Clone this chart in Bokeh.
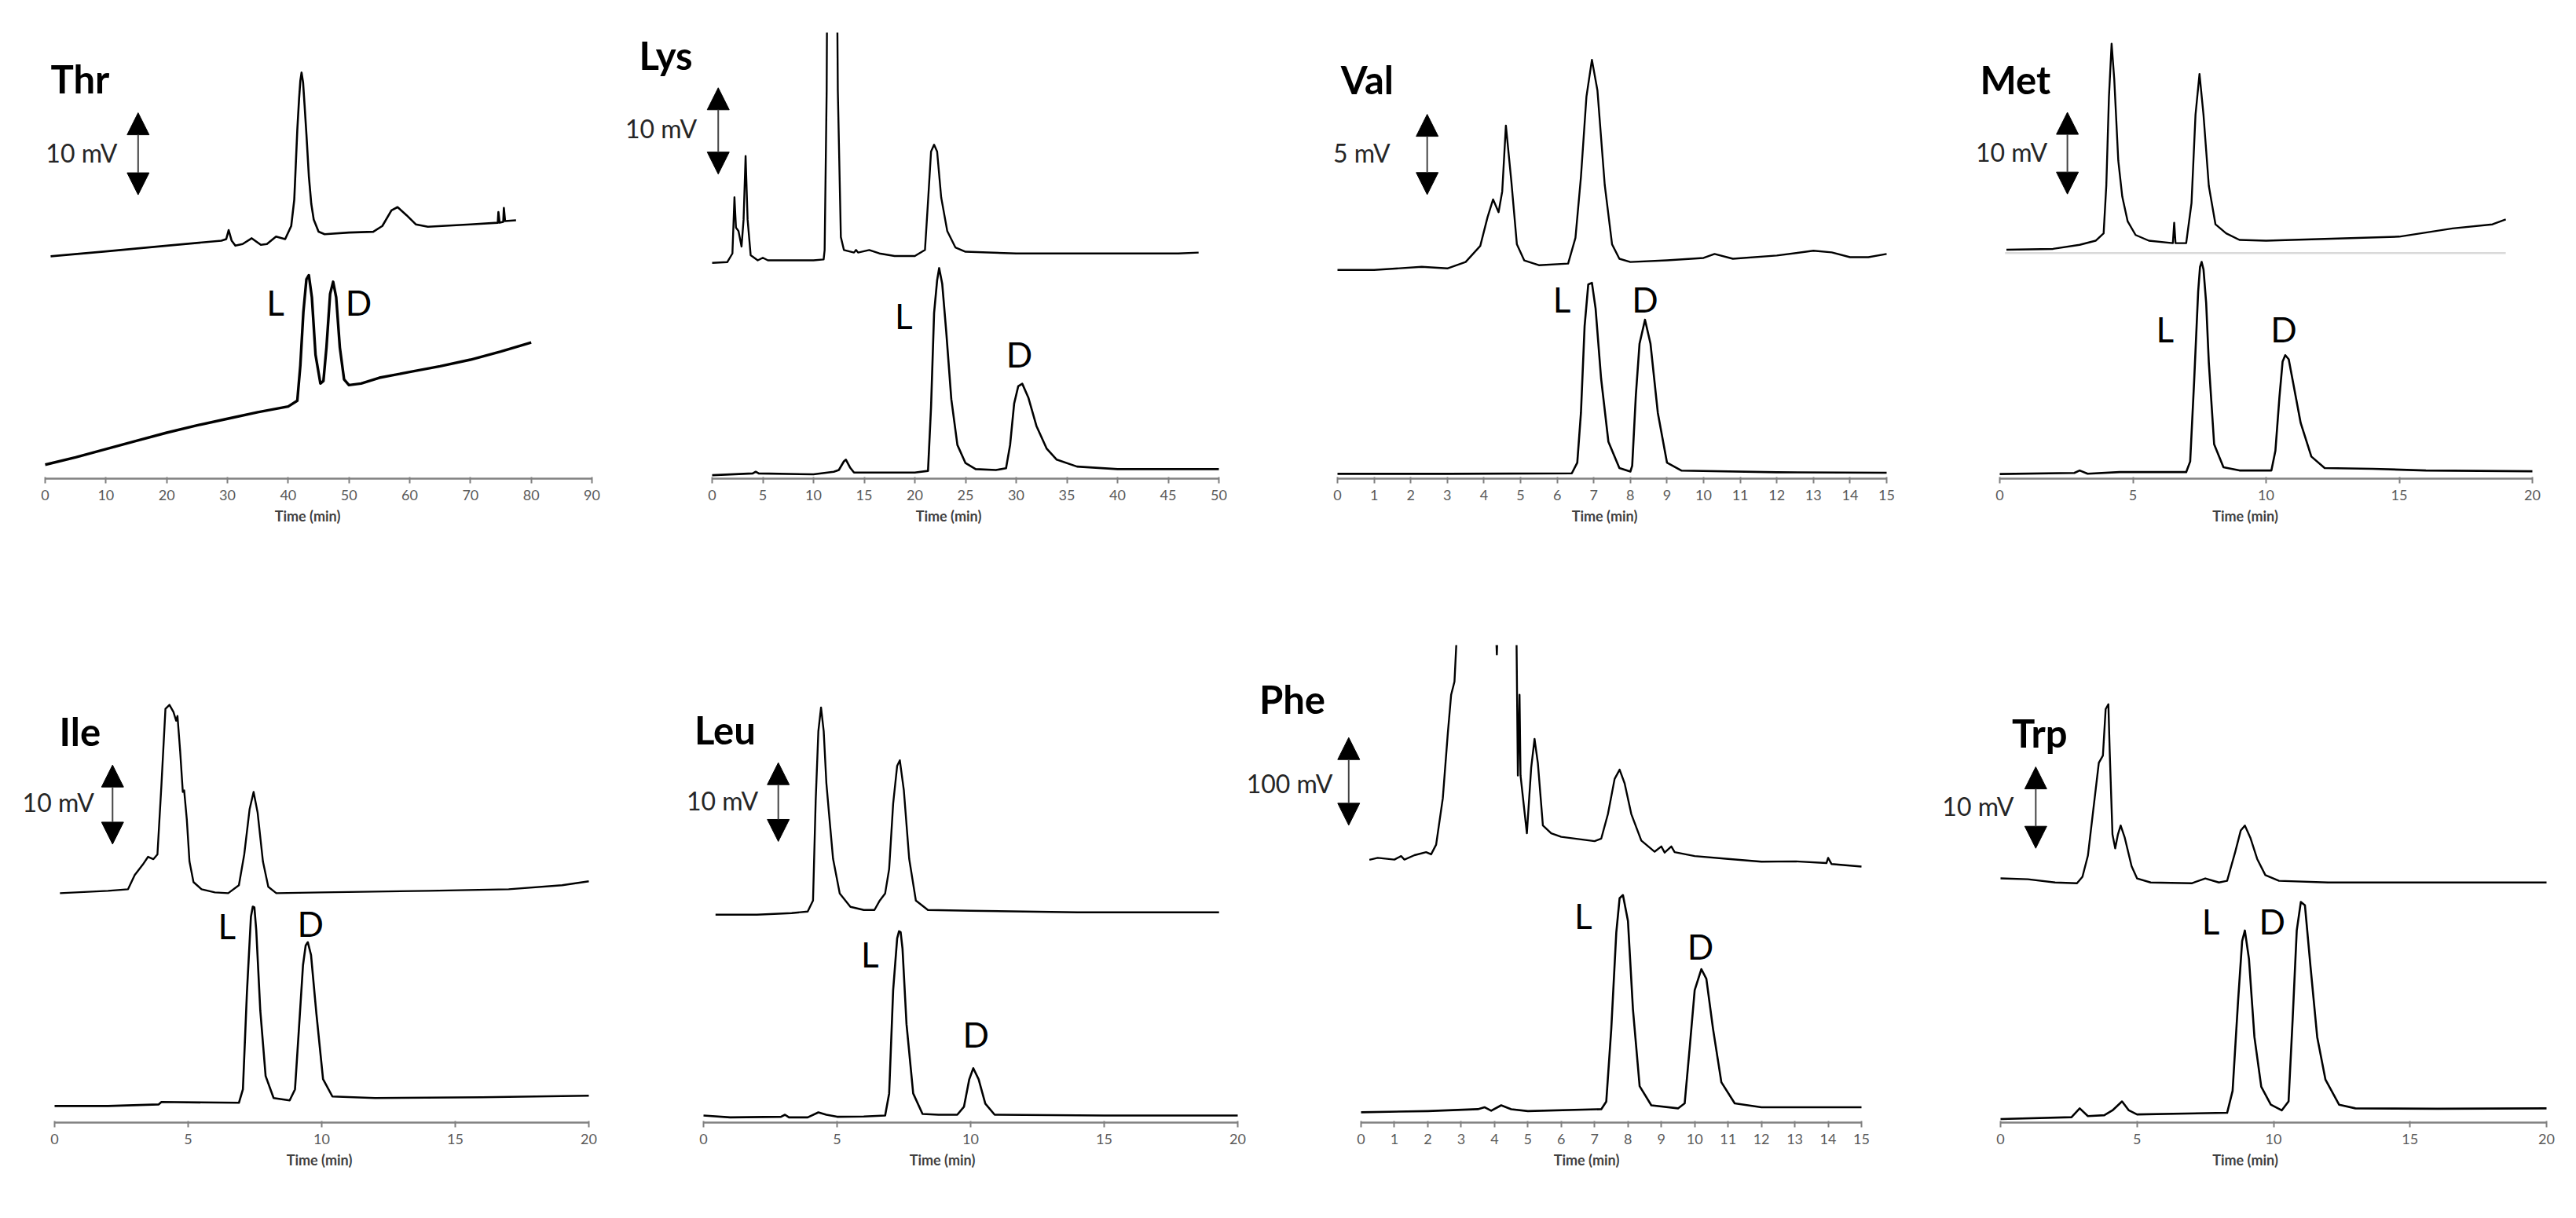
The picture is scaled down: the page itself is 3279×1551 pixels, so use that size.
from bokeh.plotting import figure
from bokeh.layouts import row, column
from bokeh.models import Range1d, FixedTicker, Label, Arrow, NormalHead
from bokeh.embed import file_html
from bokeh.resources import INLINE

FONT = "Lato"

# ------------------------------------------------------------------ data
amino_acids = ["Thr", "Lys", "Val", "Met", "Ile", "Leu", "Phe", "Trp"]
scale_bar_mv = [10, 10, 5, 10, 10, 10, 100, 10]
scale_bar_text = ["10 mV", "10 mV", "5 mV", "10 mV", "10 mV", "10 mV", "100 mV", "10 mV"]

thr_ticks = [0, 10, 20, 30, 40, 50, 60, 70, 80, 90]
lys_ticks = [0, 5, 10, 15, 20, 25, 30, 35, 40, 45, 50]
val_ticks = [0, 1, 2, 3, 4, 5, 6, 7, 8, 9, 10, 11, 12, 13, 14, 15]
met_ticks = [0, 5, 10, 15, 20]
ile_ticks = [0, 5, 10, 15, 20]
leu_ticks = [0, 5, 10, 15, 20]
phe_ticks = [0, 1, 2, 3, 4, 5, 6, 7, 8, 9, 10, 11, 12, 13, 14, 15]
trp_ticks = [0, 5, 10, 15, 20]

# time (min) / signal (mV) ; "sample" = upper trace, "std" = racemic standard (lower)
thr_sample_t = [0.9, 10, 20, 29, 29.8, 30.2, 30.7, 31.3, 32.5, 34, 35.5, 36.5, 38, 39.5, 40.5, 41.0, 41.5,
                41.8, 42.0, 42.2, 42.45, 42.7, 43.0, 43.4, 43.8, 44.2, 45, 46, 50, 54, 55.5, 57, 58, 59.5,
                61, 63, 70, 74.5, 74.6, 74.8, 75.4, 75.5, 75.7, 77.5]
thr_sample_mv = [27.1, 27.7, 28.4, 29.0, 29.2, 30.3, 29.0, 28.4, 28.6, 29.3, 28.5, 28.6, 29.5, 29.2, 30.8, 34.0,
                 42.5, 46.4, 48.5, 49.5, 48.3, 45.5, 42.0, 36.9, 33.5, 31.6, 30.1, 29.8, 30.0, 30.1, 30.8, 32.7,
                 33.1, 32.1, 31.0, 30.7, 31.0, 31.2, 32.5, 31.2, 31.3, 33.0, 31.4, 31.5]
thr_std_t = [0, 5, 10, 15, 20, 25, 30, 35, 40, 41.5, 42, 42.5, 43, 43.4, 43.9, 44.5, 45.3, 45.8, 46.3, 46.9,
             47.4, 47.9, 48.5, 49.2, 50, 52, 55, 60, 65, 70, 75, 80]
thr_std_mv = [1.7, 2.6, 3.6, 4.6, 5.6, 6.5, 7.3, 8.1, 8.8, 9.5, 13.8, 20.3, 24.3, 24.8, 22.1, 15.1, 11.6, 11.9,
              16.0, 22.5, 24.0, 22.1, 16.0, 12.1, 11.4, 11.6, 12.3, 13.0, 13.7, 14.5, 15.5, 16.6]

lys_sample_t = [0, 1.5, 2.0, 2.2, 2.35, 2.6, 2.9, 3.1, 3.3, 3.5, 3.8, 4.5, 5.0, 5.5, 10, 11.0, 11.1, 11.3,
                11.4, 11.9, 12.25, 12.4, 12.7, 13.0, 14.0, 14.2, 14.4, 15.5, 16.5, 18, 20, 21.0, 21.3, 21.6,
                21.9, 22.2, 22.6, 23.2, 24, 25, 30, 40, 46, 48]
lys_sample_mv = [25.0, 25.1, 26.1, 32.6, 29.1, 28.7, 26.9, 30.0, 37.4, 30.0, 25.9, 25.3, 25.6, 25.3, 25.3, 25.4,
                 26.5, 45.0, 70.0, 150.0, 70.0, 45.0, 28.0, 26.5, 26.2, 26.5, 26.2, 26.5, 26.1, 25.8, 25.8,
                 26.5, 32.1, 37.9, 38.7, 37.9, 32.6, 28.7, 26.8, 26.3, 26.1, 26.1, 26.1, 26.2]
lys_std_t = [0, 4, 4.3, 4.6, 10, 12, 12.5, 13.0, 13.2, 13.6, 14, 20, 21.3, 21.6, 21.9, 22.2, 22.4, 22.7, 23.1,
             23.6, 24.2, 25, 26, 28, 29, 29.4, 29.8, 30.2, 30.6, 31.2, 32, 33, 34, 36, 40, 50]
lys_std_mv = [0.4, 0.6, 0.8, 0.6, 0.5, 0.8, 1.0, 2.0, 2.2, 1.3, 0.7, 0.7, 0.9, 8.3, 19.2, 23.0, 24.4, 22.6, 17.0,
              9.2, 3.9, 1.8, 1.1, 1.0, 1.2, 3.9, 8.7, 10.7, 11.0, 9.4, 6.1, 3.5, 2.2, 1.4, 1.1, 1.1]

val_sample_t = [0, 1, 2.3, 3, 3.5, 3.9, 4.1, 4.25, 4.4, 4.5, 4.6, 4.75, 4.9, 5.1, 5.5, 6.3, 6.5, 6.65, 6.8,
                6.95, 7.1, 7.3, 7.5, 7.7, 8, 9, 10, 10.3, 10.8, 12, 13, 13.5, 14, 14.5, 15]
val_sample_mv = [13.0, 13.0, 13.2, 13.1, 13.5, 14.5, 16.3, 17.4, 16.6, 17.9, 22.0, 18.5, 14.6, 13.6, 13.3, 13.4,
                 15.0, 18.8, 23.8, 26.1, 24.2, 18.3, 14.6, 13.7, 13.5, 13.6, 13.75, 14.0, 13.7, 13.9, 14.2,
                 14.1, 13.8, 13.8, 14.0]
val_std_t = [0, 3, 6.4, 6.55, 6.65, 6.75, 6.85, 6.95, 7.05, 7.2, 7.4, 7.7, 8.0, 8.05, 8.15, 8.25, 8.4, 8.55,
             8.75, 9.0, 9.4, 12, 15]
val_std_mv = [0.3, 0.3, 0.33, 1.0, 4.1, 9.5, 12.1, 12.2, 10.6, 6.25, 2.3, 0.66, 0.44, 0.8, 5.2, 8.4, 9.9, 8.4,
              4.1, 1.0, 0.5, 0.4, 0.37]

met_sample_t = [0.25, 2, 3, 3.6, 3.9, 4.0, 4.1, 4.2, 4.3, 4.45, 4.6, 4.8, 5.1, 5.6, 6.5, 6.55, 6.6, 7.0, 7.2,
                7.35, 7.5, 7.65, 7.85, 8.1, 8.5, 9, 10, 15, 17, 18.5, 19.0]
met_sample_mv = [28.0, 28.1, 28.6, 29.1, 30.0, 35.8, 46.7, 53.2, 48.8, 38.9, 34.5, 31.5, 29.8, 29.1, 28.8, 31.3,
                 28.8, 28.8, 33.7, 44.5, 49.5, 44.5, 35.8, 31.1, 30.0, 29.2, 29.1, 29.6, 30.6, 31.1, 31.7]
met_rule_t = [0.2, 19.0]
met_rule_mv = [27.6, 27.6]
met_std_t = [0, 2.8, 3.0, 3.3, 4.5, 7.0, 7.15, 7.3, 7.45, 7.52, 7.58, 7.65, 7.75, 7.85, 8.05, 8.4, 9, 10.2,
             10.35, 10.5, 10.62, 10.72, 10.85, 11.0, 11.3, 11.7, 12.2, 14, 16, 20]
met_std_mv = [0.56, 0.7, 1.0, 0.6, 0.8, 0.8, 2.1, 12.0, 22.9, 25.9, 26.5, 25.6, 21.5, 14.2, 4.2, 1.4, 1.0, 1.0,
              3.4, 9.9, 14.3, 15.1, 14.6, 12.0, 6.8, 2.7, 1.3, 1.2, 1.0, 0.9]

ile_sample_t = [0.2, 2, 2.75, 3.0, 3.3, 3.5, 3.7, 3.85, 4.0, 4.15, 4.3, 4.45, 4.55, 4.6, 4.7, 4.8, 4.85, 4.95,
                5.05, 5.2, 5.5, 6, 6.5, 6.9, 7.1, 7.3, 7.45, 7.6, 7.8, 8.0, 8.3, 10, 14, 17, 19, 20]
ile_sample_mv = [29.0, 29.3, 29.5, 31.3, 32.6, 33.6, 33.3, 33.9, 42.7, 52.3, 52.8, 51.9, 50.8, 51.4, 47.0, 41.8,
                 42.0, 38.3, 33.0, 30.4, 29.5, 29.1, 29.0, 30.0, 33.9, 39.6, 41.8, 39.2, 33.0, 29.8, 29.0,
                 29.1, 29.3, 29.5, 30.0, 30.5]
ile_std_t = [0, 2, 3.9, 4.0, 6.9, 7.05, 7.2, 7.35, 7.42, 7.48, 7.55, 7.7, 7.9, 8.2, 8.8, 9.0, 9.15, 9.3, 9.4,
             9.48, 9.6, 9.8, 10.05, 10.4, 12, 16, 20]
ile_std_mv = [2.1, 2.1, 2.3, 2.6, 2.5, 4.2, 16.4, 26.0, 27.3, 27.2, 24.3, 14.2, 5.9, 3.1, 2.8, 4.2, 12.0, 19.9,
              22.4, 22.8, 21.2, 13.8, 5.5, 3.3, 3.1, 3.2, 3.4]

leu_sample_t = [0.45, 2, 3.3, 3.9, 4.1, 4.2, 4.3, 4.4, 4.5, 4.6, 4.7, 4.85, 5.1, 5.5, 6, 6.4, 6.6, 6.8, 6.95,
                7.1, 7.25, 7.35, 7.5, 7.7, 7.95, 8.4, 10, 14, 19.3]
leu_sample_mv = [26.4, 26.4, 26.6, 26.8, 28.2, 40.9, 49.7, 52.7, 49.7, 43.1, 39.2, 33.5, 29.1, 27.4, 27.0, 27.0,
                 28.2, 29.1, 32.2, 40.5, 45.3, 46.0, 42.2, 33.5, 28.2, 27.0, 26.9, 26.7, 26.7]
leu_std_t = [0, 1, 2.9, 3.05, 3.2, 3.9, 4.3, 4.6, 5, 6, 6.8, 6.95, 7.1, 7.25, 7.32, 7.38, 7.45, 7.6, 7.85, 8.2,
             8.8, 9.5, 9.75, 9.95, 10.1, 10.3, 10.55, 10.9, 15, 20]
leu_std_mv = [0.9, 0.66, 0.74, 1.0, 0.66, 0.66, 1.3, 1.0, 0.74, 0.78, 0.9, 3.7, 16.8, 23.4, 24.3, 24.2, 22.1,
              12.5, 3.7, 1.1, 1.0, 1.0, 2.0, 5.5, 6.9, 5.5, 2.4, 1.0, 0.9, 0.9]

phe_sample_t = [0.25, 0.5, 1.0, 1.2, 1.3, 1.6, 1.95, 2.1, 2.25, 2.45, 2.6, 2.7, 2.8, 2.9, 3.3, 3.9, 4.07, 4.2,
                4.55, 4.66, 4.70, 4.75, 4.78, 4.97, 5.1, 5.2, 5.3, 5.45, 5.7, 6, 7, 7.2, 7.4, 7.6, 7.75, 7.9,
                8.1, 8.4, 8.8, 9.0, 9.1, 9.3, 9.4, 10, 11, 12, 13, 13.95, 14.0, 14.1, 15]
phe_sample_mv = [299.8, 302, 300, 304, 300, 305, 308.5, 306, 317, 369.8, 444, 488, 503, 580, 800, 700, 534, 700,
                 800, 550, 396, 488, 396, 330, 405, 437.6, 410, 339, 330, 326, 321, 324, 352, 392, 402.6, 387,
                 352, 321.7, 309, 315, 308, 315, 308.5, 304, 300.7, 297.6, 298, 296, 302, 295, 292]
phe_std_t = [0, 2, 3.5, 3.7, 3.9, 4.2, 4.5, 5, 7.2, 7.35, 7.5, 7.65, 7.75, 7.85, 8.0, 8.15, 8.35, 8.7, 9.5, 9.7,
             9.85, 10.0, 10.2, 10.35, 10.55, 10.8, 11.2, 12, 15]
phe_std_mv = [11.8, 13.1, 15.3, 17.5, 13.5, 19.7, 15.3, 13.1, 15.3, 24, 107, 216.6, 256, 259.5, 230, 129, 41.6,
              19.7, 16.2, 21.9, 85.3, 151, 175, 164, 107, 46, 21.9, 17.5, 17.5]

trp_sample_t = [0, 1, 2, 2.8, 3.0, 3.2, 3.4, 3.6, 3.75, 3.85, 3.95, 4.0, 4.1, 4.2, 4.3, 4.4, 4.55, 4.8, 5.0,
                5.5, 7, 7.5, 8, 8.3, 8.6, 8.8, 8.95, 9.15, 9.4, 9.7, 10.2, 12, 16, 20]
trp_sample_mv = [30.0, 29.9, 29.5, 29.4, 30.2, 32.8, 38.5, 44.2, 45.1, 50.8, 51.4, 45.5, 35.4, 33.7, 35.4, 36.5,
                 35.0, 31.5, 30.0, 29.5, 29.4, 30.0, 29.5, 29.7, 33.3, 35.9, 36.5, 35.0, 32.4, 30.4, 29.7, 29.5,
                 29.5, 29.5]
trp_std_t = [0, 2.6, 2.9, 3.2, 3.8, 4.1, 4.45, 4.7, 5.0, 8.3, 8.5, 8.7, 8.85, 8.95, 9.1, 9.3, 9.55, 9.9, 10.3,
             10.55, 10.7, 10.85, 11.0, 11.15, 11.35, 11.6, 11.9, 12.4, 13, 16, 20]
trp_std_mv = [0.44, 0.66, 1.75, 0.8, 0.9, 1.5, 2.6, 1.5, 1.0, 1.2, 3.9, 14.9, 22.3, 23.6, 20.1, 10.5, 4.4, 2.2,
              1.5, 2.6, 12.7, 23.6, 27.1, 26.7, 19.3, 10.5, 5.3, 2.2, 1.75, 1.7, 1.75]

# ------------------------------------------------------------------ layout (page pixels)
# box = (left, right, top, bottom) of each figure; axis = pixel span of the time axis;
# base = pixel row of the time axis; top = pixel row where the plot area starts; ppu = px per mV
geometry = {
    "Thr": dict(box=(8, 790, 8, 780), axis=(65, 761), base=617, top=8, ppu=11.2),
    "Lys": dict(box=(790, 1640, 8, 780), axis=(914, 1559), base=628, top=49, ppu=11.2),
    "Val": dict(box=(1640, 2460, 8, 780), axis=(1710, 2409), base=625, top=8, ppu=22.2),
    "Met": dict(box=(2460, 3271, 8, 780), axis=(2553, 3231), base=619, top=8, ppu=11.2),
    "Ile": dict(box=(8, 820, 780, 1543), axis=(77, 757), base=1456, top=780, ppu=11.2),
    "Leu": dict(box=(820, 1594, 780, 1543), axis=(903, 1583), base=1459, top=780, ppu=11.2),
    "Phe": dict(box=(1594, 2460, 780, 1543), axis=(1740, 2377), base=1439, top=829, ppu=1.12),
    "Trp": dict(box=(2460, 3271, 780, 1543), axis=(2554, 3249), base=1437, top=780, ppu=11.2),
}

# annotation anchors in data units (min, mV)
anchors = {
    "Thr": dict(title=(0.9, 48.8), bar_text=(11.9, 39.7), bar=(15.3, 34.6), L=(37.9, 21.5), D=(51.6, 21.5)),
    "Lys": dict(title=(-7.2, 49.1), bar_text=(-1.5, 40.6), bar=(0.6, 35.3), L=(18.9, 18.9), D=(30.3, 14.4)),
    "Val": dict(title=(0.09, 24.9), bar_text=(1.44, 20.3), bar=(2.45, 17.7), L=(6.13, 11.2), D=(8.4, 11.2)),
    "Met": dict(title=(-0.74, 48.8), bar_text=(1.79, 40.0), bar=(2.54, 34.8), L=(6.2, 18.3), D=(10.66, 18.3)),
    "Ile": dict(title=(0.18, 49.5), bar_text=(1.48, 40.5), bar=(2.17, 35.2), L=(6.45, 24.9), D=(9.58, 25.2)),
    "Leu": dict(title=(-0.34, 49.9), bar_text=(2.05, 40.9), bar=(2.8, 35.7), L=(6.23, 21.4), D=(10.2, 11.2)),
    "Phe": dict(title=(-3.05, 483.6), bar_text=(-0.85, 387.3), bar=(-0.37, 339.2), L=(6.66, 236), D=(10.17, 201)),
    "Trp": dict(title=(0.42, 47.9), bar_text=(0.49, 38.9), bar=(1.29, 33.7), L=(7.7, 24.7), D=(9.95, 24.7)),
}

traces = {
    "Thr": [(thr_sample_t, thr_sample_mv, 2.6), (thr_std_t, thr_std_mv, 3.4)],
    "Lys": [(lys_sample_t, lys_sample_mv, 2.4), (lys_std_t, lys_std_mv, 2.6)],
    "Val": [(val_sample_t, val_sample_mv, 2.4), (val_std_t, val_std_mv, 2.6)],
    "Met": [(met_sample_t, met_sample_mv, 2.4), (met_std_t, met_std_mv, 2.6)],
    "Ile": [(ile_sample_t, ile_sample_mv, 2.4), (ile_std_t, ile_std_mv, 2.6)],
    "Leu": [(leu_sample_t, leu_sample_mv, 2.4), (leu_std_t, leu_std_mv, 2.6)],
    "Phe": [(phe_sample_t, phe_sample_mv, 2.4), (phe_std_t, phe_std_mv, 2.6)],
    "Trp": [(trp_sample_t, trp_sample_mv, 2.4), (trp_std_t, trp_std_mv, 2.6)],
}
ticks = {"Thr": thr_ticks, "Lys": lys_ticks, "Val": val_ticks, "Met": met_ticks,
         "Ile": ile_ticks, "Leu": leu_ticks, "Phe": phe_ticks, "Trp": trp_ticks}


def make_panel(i):
    name = amino_acids[i]
    g = geometry[name]
    a = anchors[name]
    fl, fr, ft, fb = g["box"]
    ax0, ax1 = g["axis"]
    tk = ticks[name]
    px_per_min = (ax1 - ax0) / (tk[-1] - tk[0])
    x_start = tk[0] - (ax0 - fl) / px_per_min
    x_end = tk[-1] + (fr - ax1) / px_per_min
    ymax = (g["base"] - g["top"]) / g["ppu"]
    p = figure(width=fr - fl, height=fb - ft, output_backend="svg", toolbar_location=None,
               x_range=Range1d(x_start, x_end), y_range=Range1d(0, ymax),
               y_axis_location=None, min_border=0)
    p.min_border_left = 0
    p.min_border_right = 0
    p.min_border_top = g["top"] - ft
    p.min_border_bottom = fb - g["base"]
    p.outline_line_color = None
    p.xgrid.visible = False
    p.ygrid.visible = False
    p.background_fill_color = "white"
    p.border_fill_color = "white"

    if name == "Met":
        p.line(met_rule_t, met_rule_mv, line_color="#d9d9d9", line_width=2.5)
    for t, v, lw in traces[name]:
        p.line(t, v, line_color="black", line_width=lw, line_join="round")

    ax = p.xaxis[0]
    ax.bounds = (tk[0], tk[-1])
    ax.ticker = FixedTicker(ticks=tk)
    ax.axis_line_color = "#808080"
    ax.axis_line_width = 2.5
    ax.major_tick_line_color = "#808080"
    ax.major_tick_line_width = 2
    ax.major_tick_in = 2
    ax.major_tick_out = 6
    ax.minor_tick_line_color = None
    ax.major_label_text_font = FONT
    ax.major_label_text_font_size = "18px"
    ax.major_label_text_color = "#595959"
    ax.major_label_standoff = 8
    ax.axis_label = "Time (min)"
    ax.axis_label_text_font = FONT
    ax.axis_label_text_font_style = "bold"
    ax.axis_label_text_font_size = "18px"
    ax.axis_label_text_color = "#404040"
    ax.axis_label_standoff = 6

    tx, ty = a["title"]
    p.add_layout(Label(x=tx, y=ty, text=name, text_font=FONT, text_font_style="bold",
                       text_font_size="49px", text_color="black",
                       text_align="left", text_baseline="middle"))
    bx, by = a["bar_text"]
    p.add_layout(Label(x=bx, y=by, text=scale_bar_text[i], text_font=FONT,
                       text_font_size="32px", text_color="#262626",
                       text_align="right", text_baseline="middle"))
    ax_t, ay0 = a["bar"]
    p.add_layout(Arrow(start=NormalHead(size=28, fill_color="black", line_color="black"),
                       end=NormalHead(size=28, fill_color="black", line_color="black"),
                       x_start=ax_t, y_start=ay0, x_end=ax_t, y_end=ay0 + scale_bar_mv[i],
                       line_color="#444444", line_width=2))
    for key in ("L", "D"):
        lx, ly = a[key]
        p.add_layout(Label(x=lx, y=ly, text=key, text_font=FONT, text_font_size="44px",
                           text_color="black", text_align="center", text_baseline="middle"))
    return p


figs = [make_panel(i) for i in range(8)]
page = column(row(*figs[:4], spacing=0), row(*figs[4:], spacing=0), spacing=0)

open("out.html", "w").write(file_html(page, INLINE))
